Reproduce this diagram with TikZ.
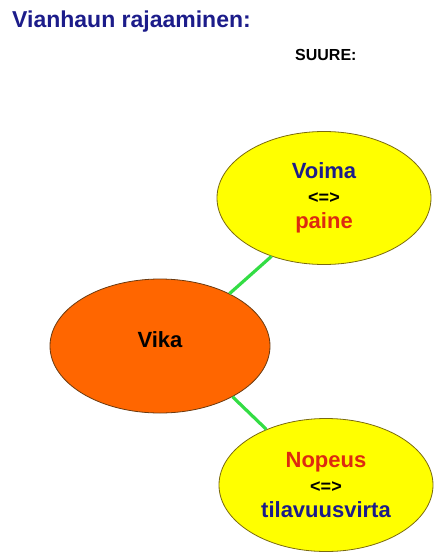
\documentclass[tikz,border=0pt]{standalone}
\usepackage{fontspec}
\setmainfont{Liberation Sans}
\usetikzlibrary{shapes.geometric}
\definecolor{navytxt}{HTML}{1C1C8A}
\definecolor{redtxt}{HTML}{DD2A10}
\definecolor{bubbleyellow}{HTML}{FFFF00}
\definecolor{bubbleedge}{HTML}{7A6A10}
\definecolor{faultorange}{HTML}{FF6600}
\definecolor{faultedge}{HTML}{6A3A10}
\definecolor{linkgreen}{HTML}{33DD44}
\newcommand{\eqv}{{\fontsize{18}{18}\selectfont <=>}}
\begin{document}
\begin{tikzpicture}[x=1pt,y=-1pt,
  qty/.style={ellipse, draw=bubbleedge, line width=0.8pt, fill=bubbleyellow,
    minimum width=214pt, minimum height=133pt, inner sep=0pt,
    align=center, font=\fontsize{22}{25}\selectfont\bfseries},
  fault/.style={ellipse, draw=faultedge, line width=0.8pt, fill=faultorange,
    minimum width=220pt, minimum height=134pt, inner sep=0pt},
  lbl/.style={anchor=base, inner sep=0pt, font=\fontsize{22}{26}\selectfont\bfseries},
  link/.style={draw=linkgreen, line width=3.2pt}]
\useasboundingbox (0,0) rectangle (434,555);
\node[anchor=base west, text=navytxt, font=\fontsize{23}{27}\selectfont\bfseries, inner sep=0pt]
  (title) at (12,27) {Vianhaun rajaaminen:};
\node[anchor=base west, font=\fontsize{16}{19}\selectfont\bfseries, inner sep=0pt]
  (suure) at (295,60) {SUURE:};
\node[qty] (voima) at (324,198)
  {\textcolor{navytxt}{Voima}\\\eqv\\\textcolor{redtxt}{paine}};
\node[fault] (vika) at (160,346) {};
\node[lbl] (vikatext) at (160,347) {Vika};
\node[qty] (nopeus) at (326,485)
  {\textcolor{redtxt}{Nopeus}\\\eqv\\\textcolor{navytxt}{tilavuusvirta}};
% connectors between the fault and the two quantity pairs
\draw[link] (vika.37) -- (voima.228);
\draw[link] (vika.325) -- (nopeus.137);
\end{tikzpicture}
\end{document}
